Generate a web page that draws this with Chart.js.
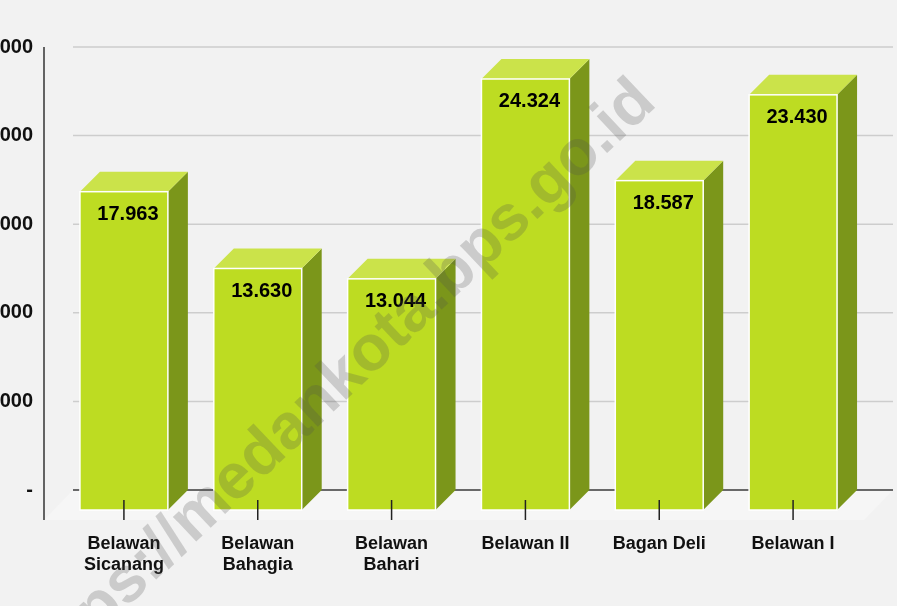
<!DOCTYPE html>
<html>
<head>
<meta charset="utf-8">
<script src="https://cdn.jsdelivr.net/npm/chart.js@4.4.1/dist/chart.umd.min.js"></script>
<style>
  html, body { margin: 0; padding: 0; background: #f2f2f2; overflow: hidden; }
  canvas { display: block; }
</style>
</head>
<body>
<canvas id="kelurahanChart" width="897" height="606"></canvas>
<script>
const categories = [['Belawan', 'Sicanang'], ['Belawan', 'Bahagia'], ['Belawan', 'Bahari'], 'Belawan II', 'Bagan Deli', 'Belawan I'];
const values = [17963, 13630, 13044, 24324, 18587, 23430];
const yTickValues = [0, 5000, 10000, 15000, 20000, 25000];
const watermark = 'https://medankota.bps.go.id';

const FONT = '"Liberation Sans", Arial, sans-serif';
const BAR_DEPTH = 20;     // 3d offset of bar boxes
const FLOOR_DEPTH = 29;   // offset from front axis to back wall
const FRONT_GAP = 13;     // gap between value axis line and first category

const fmt = v => v === 0 ? '-' : String(v).replace(/\B(?=(\d{3})+(?!\d))/g, '.');

const threeD = {
  id: 'threeD',
  beforeDatasetsDraw(chart) {
    const { ctx, chartArea, scales } = chart;
    const y0 = scales.y.getPixelForValue(0);
    const axisX = chartArea.left - FRONT_GAP;
    const backL = axisX + FLOOR_DEPTH;
    const backR = chartArea.right + 33;
    ctx.save();
    // floor
    ctx.fillStyle = '#f6f6f6';
    ctx.beginPath();
    ctx.moveTo(axisX, y0 + FLOOR_DEPTH + 1);
    ctx.lineTo(backL, y0);
    ctx.lineTo(backR, y0);
    ctx.lineTo(backR - FLOOR_DEPTH, y0 + FLOOR_DEPTH + 1);
    ctx.closePath();
    ctx.fill();
    // back wall gridlines
    yTickValues.forEach(v => {
      const y = scales.y.getPixelForValue(v);
      ctx.strokeStyle = v === 0 ? '#3a3a3a' : '#cdcdcd';
      ctx.lineWidth = 1.5;
      ctx.beginPath();
      ctx.moveTo(backL, y);
      ctx.lineTo(backR, y);
      ctx.stroke();
    });
    // value axis line
    ctx.strokeStyle = '#333';
    ctx.lineWidth = 1.5;
    ctx.beginPath();
    ctx.moveTo(axisX, chartArea.top);
    ctx.lineTo(axisX, y0 + FLOOR_DEPTH + 1);
    ctx.stroke();
    ctx.restore();
  },
  afterDatasetsDraw(chart) {
    const { ctx } = chart;
    const meta = chart.getDatasetMeta(0);
    ctx.save();
    meta.data.forEach((el, i) => {
      const { x, y, base, width } = el.getProps(['x', 'y', 'base', 'width'], true);
      const d = BAR_DEPTH;
      const l = x - width / 2, r = x + width / 2;
      const top = y + d, bot = base + d;
      // side
      ctx.fillStyle = '#7b961a';
      ctx.beginPath();
      ctx.moveTo(r, top);
      ctx.lineTo(r + d, top - d);
      ctx.lineTo(r + d, bot - d);
      ctx.lineTo(r, bot);
      ctx.closePath();
      ctx.fill();
      // top
      ctx.fillStyle = '#cbe34a';
      ctx.beginPath();
      ctx.moveTo(l, top);
      ctx.lineTo(l + d, top - d);
      ctx.lineTo(r + d, top - d);
      ctx.lineTo(r, top);
      ctx.closePath();
      ctx.fill();
      // front
      ctx.fillStyle = '#bddc22';
      ctx.fillRect(l, top, width, bot - top);
      ctx.strokeStyle = '#ffffff';
      ctx.lineWidth = 1.5;
      ctx.strokeRect(l, top, width, bot - top);
      // category tick
      ctx.strokeStyle = '#222';
      ctx.lineWidth = 1.5;
      ctx.beginPath();
      ctx.moveTo(x, base + 10);
      ctx.lineTo(x, base + FLOOR_DEPTH + 1);
      ctx.stroke();
      // value label
      ctx.fillStyle = '#000';
      ctx.font = 'bold 20px ' + FONT;
      ctx.textAlign = 'center';
      ctx.textBaseline = 'middle';
      ctx.fillText(fmt(values[i]), x + 4, top + 23);
    });
    ctx.restore();
  },
  afterDraw(chart) {
    const { ctx } = chart;
    ctx.save();
    ctx.translate(646, 92);
    ctx.rotate(-43.4 * Math.PI / 180);
    ctx.font = 'bold 64px ' + FONT;
    ctx.fillStyle = 'rgba(80, 80, 80, 0.24)';
    ctx.textAlign = 'right';
    ctx.textBaseline = 'middle';
    ctx.fillText(watermark, 0, 0);
    ctx.restore();
  }
};

new Chart(document.getElementById('kelurahanChart').getContext('2d'), {
  type: 'bar',
  data: {
    labels: categories,
    datasets: [{
      data: values,
      backgroundColor: 'rgba(0,0,0,0)',
      borderWidth: 0,
      categoryPercentage: 1,
      barPercentage: 0.657
    }]
  },
  options: {
    responsive: false,
    animation: false,
    devicePixelRatio: 1,
    layout: { padding: { top: 47, right: 37, left: 0, bottom: 0 } },
    scales: {
      x: {
        grid: { display: false, drawTicks: false },
        border: { display: false },
        ticks: {
          padding: 43,
          maxRotation: 0,
          autoSkip: false,
          color: '#111',
          font: { family: FONT, size: 18, weight: 'bold', lineHeight: 1.2 }
        },
        afterFit: s => { s.height = 116; }
      },
      y: {
        min: 0,
        max: 25000,
        afterBuildTicks: s => { s.ticks = yTickValues.map(v => ({ value: v })); },
        grid: { display: false, drawTicks: false },
        border: { display: false },
        ticks: {
          padding: 24,
          color: '#111',
          font: { family: FONT, size: 20, weight: 'bold' },
          callback: v => fmt(v)
        },
        afterFit: s => { s.width = 57; }
      }
    },
    plugins: {
      legend: { display: false },
      tooltip: { enabled: false }
    }
  },
  plugins: [threeD]
});
</script>
</body>
</html>
